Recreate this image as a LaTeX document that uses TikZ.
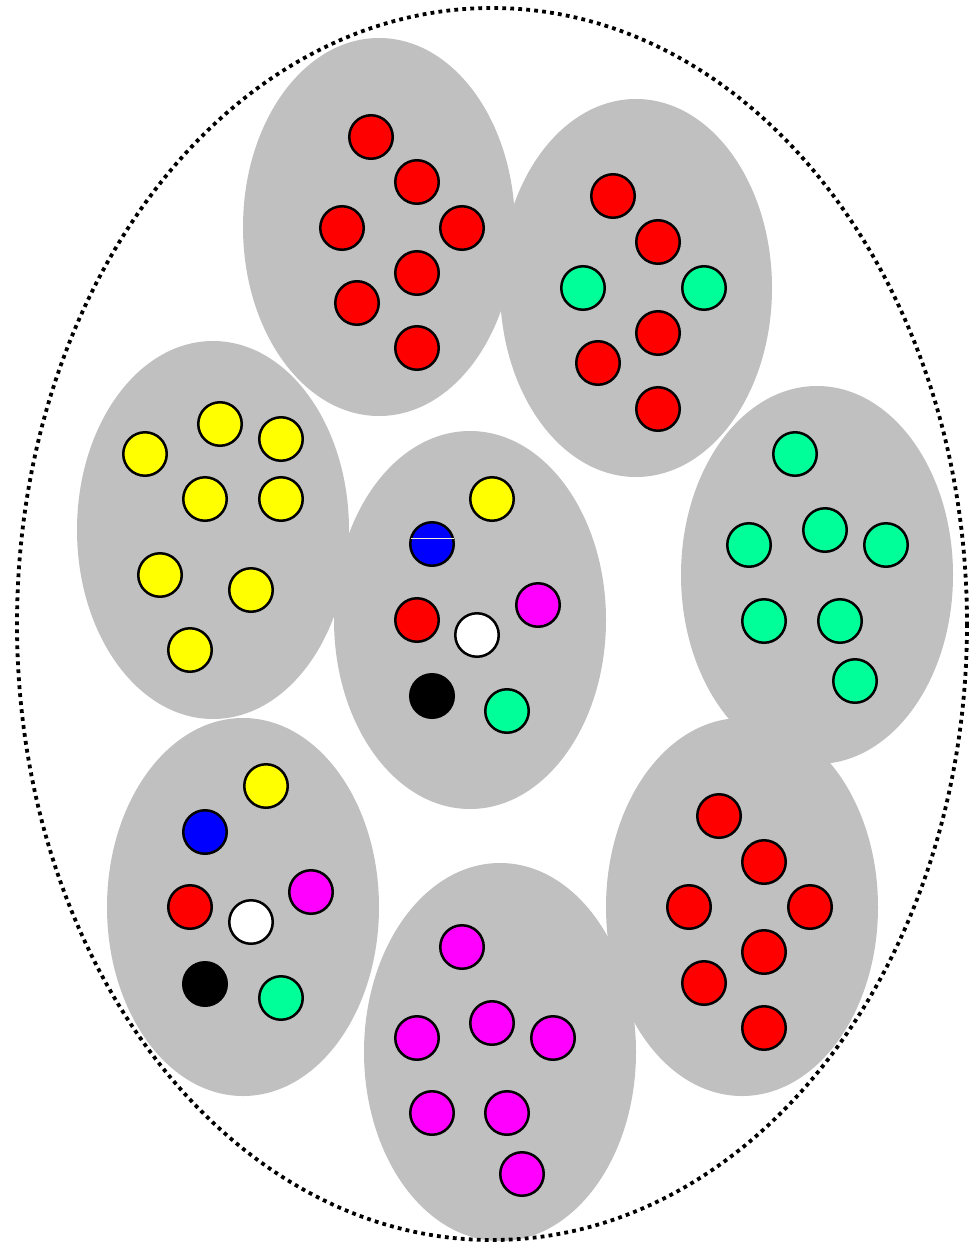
\documentclass[tikz,border=0pt]{standalone}
\usetikzlibrary{shapes.geometric}
\definecolor{blobgray}{HTML}{C0C0C0}
\definecolor{mint}{HTML}{00FF99}
\definecolor{pureyellow}{HTML}{FFFF00}
\definecolor{purered}{HTML}{FF0000}
\definecolor{pureblue}{HTML}{0000FF}
\definecolor{puremagenta}{HTML}{FF00FF}
\definecolor{stripe}{HTML}{EEEED8}
\begin{document}
\begin{tikzpicture}[x=1pt,y=-1pt,
  blob/.style={ellipse,fill=blobgray,draw=none,minimum width=272pt,minimum height=378pt,inner sep=0pt},
  ball/.style={circle,draw=black,line width=2.5pt,minimum size=43.5pt,inner sep=0pt},
  rd/.style={ball,fill=purered},
  gr/.style={ball,fill=mint},
  yl/.style={ball,fill=pureyellow},
  bl/.style={ball,fill=pureblue},
  mg/.style={ball,fill=puremagenta},
  wt/.style={ball,fill=white},
  bk/.style={ball,fill=black},
  outer/.style={draw=black,line width=3.8pt,dash pattern=on 3.8pt off 4.2pt}]
\useasboundingbox (0,0) rectangle (977,1244);

% grey groups
\node[blob] (g1) at (379,227) {};
\node[blob] (g2) at (636,288) {};
\node[blob] (g3) at (213,530) {};
\node[blob] (g4) at (470,620) {};
\node[blob] (g5) at (817,575) {};
\node[blob] (g6) at (243,907) {};
\node[blob] (g7) at (742,907) {};
\node[blob] (g8) at (500,1052) {};

% group 1: all red
\node[rd] (a1) at (371,137) {};
\node[rd] (a2) at (417,182) {};
\node[rd] (a3) at (342,228) {};
\node[rd] (a4) at (462,228) {};
\node[rd] (a5) at (417,273) {};
\node[rd] (a6) at (357,303) {};
\node[rd] (a7) at (417,348) {};

% group 2: red with two green
\node[rd] (b1) at (613,196) {};
\node[rd] (b2) at (658,242) {};
\node[gr] (b3) at (583,288) {};
\node[gr] (b4) at (704,288) {};
\node[rd] (b5) at (658,333) {};
\node[rd] (b6) at (598,363) {};
\node[rd] (b7) at (658,409) {};

% group 3: all yellow
\node[yl] (c1) at (145,454) {};
\node[yl] (c2) at (220,424) {};
\node[yl] (c3) at (281,439) {};
\node[yl] (c4) at (205,499) {};
\node[yl] (c5) at (281,499) {};
\node[yl] (c6) at (160,575) {};
\node[yl] (c7) at (251,590) {};
\node[yl] (c8) at (190,650) {};

% group 4: mixed
\node[yl] (d1) at (492,499) {};
\node[bl] (d2) at (432,544) {};
\node[mg] (d3) at (538,605) {};
\node[rd] (d4) at (417,620) {};
\node[wt] (d5) at (477,635) {};
\node[bk] (d6) at (432,696) {};
\node[gr] (d7) at (507,711) {};
\draw[stripe,line width=0.8pt] ([xshift=1.5pt]d2.west |- 0,538.5) -- ([xshift=-1.5pt]d2.east |- 0,538.5);

% group 5: all green
\node[gr] (e1) at (795,454) {};
\node[gr] (e2) at (749,545) {};
\node[gr] (e3) at (825,530) {};
\node[gr] (e4) at (886,545) {};
\node[gr] (e5) at (764,621) {};
\node[gr] (e6) at (840,621) {};
\node[gr] (e7) at (855,681) {};

% group 6: mixed
\node[yl] (f1) at (266,786) {};
\node[bl] (f2) at (205,832) {};
\node[mg] (f3) at (311,892) {};
\node[rd] (f4) at (190,907) {};
\node[wt] (f5) at (251,922) {};
\node[bk] (f6) at (205,984) {};
\node[gr] (f7) at (281,998) {};

% group 7: all red
\node[rd] (h1) at (719,816) {};
\node[rd] (h2) at (764,862) {};
\node[rd] (h3) at (689,907) {};
\node[rd] (h4) at (810,907) {};
\node[rd] (h5) at (764,952) {};
\node[rd] (h6) at (704,983) {};
\node[rd] (h7) at (764,1028) {};

% group 8: all magenta
\node[mg] (k1) at (462,947) {};
\node[mg] (k2) at (417,1038) {};
\node[mg] (k3) at (492,1023) {};
\node[mg] (k4) at (553,1038) {};
\node[mg] (k5) at (432,1113) {};
\node[mg] (k6) at (507,1113) {};
\node[mg] (k7) at (522,1174) {};

% dotted outer boundary
\draw[outer] (492,624) ellipse [x radius=475, y radius=616];
\end{tikzpicture}
\end{document}
